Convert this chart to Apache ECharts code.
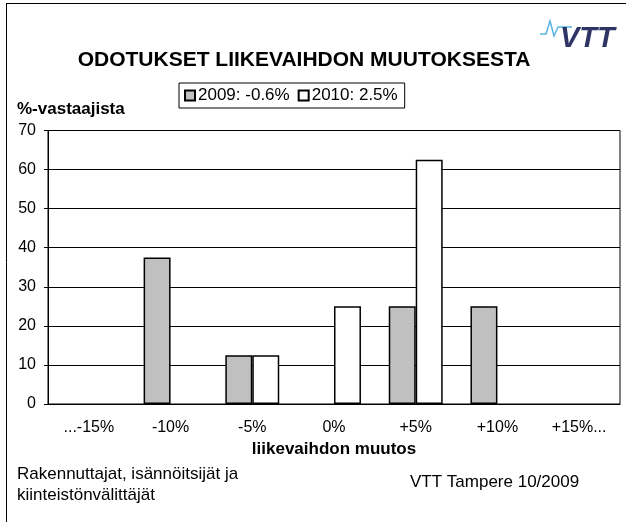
<!DOCTYPE html>
<html lang="fi">
<head>
<meta charset="utf-8">
<title>Odotukset liikevaihdon muutoksesta</title>
<script src="https://cdn.jsdelivr.net/npm/echarts@6/dist/echarts.min.js"></script>
<style>
  html, body { margin: 0; padding: 0; background: #fff; }
  #chart { width: 626px; height: 522px; }
</style>
</head>
<body>
<div id="chart"></div>
<script type="text/javascript">
var categories = ['...-15%', '-10%', '-5%', '0%', '+5%', '+10%', '+15%...'];
var seriesNames = ['2009: -0.6%', '2010: 2.5%'];
var data2009 = [0, 37.5, 12.5, 0, 25, 25, 0];
var data2010 = [0, 0, 12.5, 25, 62.5, 0, 0];
var yTicks = [0, 10, 20, 30, 40, 50, 60, 70];

// zero answers draw no bar at all (as in the original)
function noZero(arr) {
  return arr.map(function (v) { return v === 0 ? '-' : v; });
}

var font = 'Liberation Sans, Arial, sans-serif';
var chart = echarts.init(document.getElementById('chart'));

chart.setOption({
  backgroundColor: '#fff',
  animation: false,
  textStyle: { fontFamily: font, color: '#000' },
  title: {
    text: 'ODOTUKSET LIIKEVAIHDON MUUTOKSESTA',
    left: 299, top: 45, textAlign: 'center',
    textStyle: { fontSize: 21, fontWeight: 'bold', color: '#000', fontFamily: font }
  },
  legend: {
    data: seriesNames,
    left: 179, top: 83,
    padding: [4, 7, 4, 5],
    itemGap: 8,
    itemWidth: 10, itemHeight: 10,
    borderColor: '#000', borderWidth: 1,
    textStyle: { fontSize: 17, color: '#000', fontFamily: font, padding: [0, 0, 0, -2] },
    icon: 'rect'
  },
  grid: { left: 48, right: 6, top: 130.5, bottom: 118, show: true, borderColor: '#000', borderWidth: 1 },
  xAxis: [{
    type: 'category',
    data: categories,
    axisLine: { lineStyle: { color: '#000' } },
    axisTick: { length: 4, lineStyle: { color: '#000' } },
    axisLabel: { fontSize: 16, color: '#000', margin: 16 },
    name: 'liikevaihdon muutos',
    nameLocation: 'middle', nameGap: 36,
    nameTextStyle: { fontSize: 17, fontWeight: 'bold', color: '#000' }
  }, {
    type: 'category',
    data: categories,
    position: 'bottom',
    axisLine: { show: false },
    axisTick: { inside: true, length: 4, lineStyle: { color: '#000' } },
    axisLabel: { show: false }
  }],
  yAxis: {
    type: 'value',
    min: yTicks[0], max: yTicks[yTicks.length - 1], interval: 10,
    axisLine: { show: true, lineStyle: { color: '#000' } },
    axisTick: { show: true, length: 4, lineStyle: { color: '#000' } },
    axisLabel: { fontSize: 16, color: '#000', margin: 12 },
    splitLine: { lineStyle: { color: '#000' } }
  },
  series: [{
    name: seriesNames[0],
    type: 'bar',
    data: noZero(data2009),
    barGap: '0%',
    barCategoryGap: '34%',
    itemStyle: { color: '#c0c0c0', borderColor: '#000', borderWidth: 1.5 }
  }, {
    name: seriesNames[1],
    type: 'bar',
    data: noZero(data2010),
    itemStyle: { color: '#fff', borderColor: '#000', borderWidth: 1.5 }
  }],
  graphic: [
    { type: 'line', shape: { x1: 6.5, y1: 3, x2: 6.5, y2: 522 }, style: { stroke: '#000', lineWidth: 1 } },
    { type: 'line', shape: { x1: 6, y1: 3.5, x2: 626, y2: 3.5 }, style: { stroke: '#000', lineWidth: 1 } },
    { type: 'text', left: 17, top: 101, style: { text: '%-vastaajista', font: 'bold 17px ' + font, fill: '#000' } },
    { type: 'text', left: 17, top: 466, style: { text: 'Rakennuttajat, isännöitsijät ja', font: '17px ' + font, fill: '#000' } },
    { type: 'text', left: 17, top: 487, style: { text: 'kiinteistönvälittäjät', font: '17px ' + font, fill: '#000' } },
    { type: 'text', left: 410, top: 474, style: { text: 'VTT Tampere 10/2009', font: '17px ' + font, fill: '#000' } },
    // VTT logo
    { type: 'polyline', shape: { points: [[540, 34], [546, 34], [550, 21], [554, 36], [558, 27], [572, 27]] },
      style: { stroke: '#5ab4e5', lineWidth: 1.5, fill: null } },
    { type: 'text', left: 560, top: 24, style: { text: 'VTT', font: 'italic 900 29px ' + font, fill: '#2e3565' } }
  ]
});
</script>
</body>
</html>
